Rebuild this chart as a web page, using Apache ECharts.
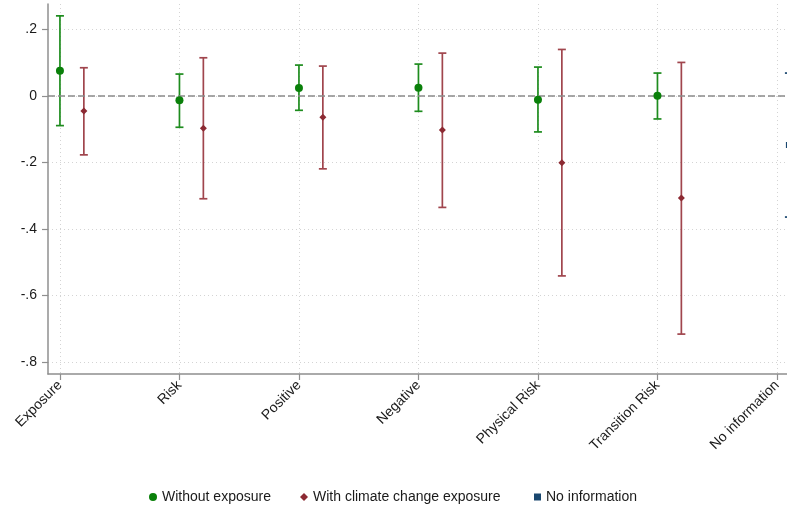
<!DOCTYPE html>
<html>
<head>
<meta charset="utf-8">
<script src="https://cdn.jsdelivr.net/npm/echarts@6/dist/echarts.min.js"></script>
<style>
html,body{margin:0;padding:0;background:#fff;}
#chart{width:787px;height:510px;}
</style>
</head>
<body>
<div id="chart"></div>
<script>
// ---- data ----
const categories = ['Exposure','Risk','Positive','Negative','Physical Risk','Transition Risk','No information'];
const yTicks = [-0.8,-0.6,-0.4,-0.2,0,0.2];

// Without exposure
const woEst = [0.076,-0.013,0.024,0.025,-0.011,0.001,null];
const woLo  = [-0.089,-0.094,-0.043,-0.046,-0.108,-0.069,null];
const woHi  = [0.241,0.066,0.093,0.096,0.087,0.069,null];

// With climate change exposure
const wEst = [-0.045,-0.097,-0.064,-0.102,-0.201,-0.307,null];
const wLo  = [-0.177,-0.309,-0.219,-0.335,-0.541,-0.716,null];
const wHi  = [0.085,0.115,0.090,0.129,0.140,0.101,null];

// No information
const niEst = [null,null,null,null,null,null,-0.147];
const niLo  = [null,null,null,null,null,null,-0.364];
const niHi  = [null,null,null,null,null,null,0.069];

// ---- build ----
const offsets = {wo:0, w:0.2, ni:0.1};
function pts(est, off){ const r=[]; est.forEach((v,i)=>{ if(v!==null) r.push([i+off, v]); }); return r; }
function cis(lo, hi, off){ const r=[]; lo.forEach((v,i)=>{ if(v!==null) r.push([i+off, v, hi[i]]); }); return r; }

function ciRender(color){
  return function(params, api){
    const x = api.value(0), lo = api.value(1), hi = api.value(2);
    const a = api.coord([x, lo]), b = api.coord([x, hi]);
    const cw = 4, lw = 1.7;
    const st = {stroke: color, lineWidth: lw, fill: null};
    return {type:'group', children:[
      {type:'line', shape:{x1:a[0],y1:a[1],x2:b[0],y2:b[1]}, style:st},
      {type:'line', shape:{x1:a[0]-cw,y1:a[1],x2:a[0]+cw,y2:a[1]}, style:st},
      {type:'line', shape:{x1:b[0]-cw,y1:b[1],x2:b[0]+cw,y2:b[1]}, style:st}
    ]};
  };
}

const GREEN = '#0a800a', GREEN_L = '#1e8c1e';
const RED = '#8c2a33', RED_L = '#a0454d';
const NAVY = '#1a476f';

const fmtY = v => v===0 ? '0' : (v<0?'-':'') + Math.abs(v).toFixed(1).replace(/^0/,'');

const chart = echarts.init(document.getElementById('chart'), null, {renderer:'canvas'});
const legendText = {fontFamily:'Liberation Sans, Arial, sans-serif', fontSize:14, color:'#1a1a1a'};
chart.setOption({
  animation:false,
  backgroundColor:'#fff',
  grid:{left:48, right:0, top:4, bottom:136, containLabel:false},
  xAxis:{
    type:'value', min:-0.1, max:6.084,
    axisLine:{show:true, onZero:false, lineStyle:{color:'#8f8f8f', width:1.5}},
    axisTick:{show:true, length:6, lineStyle:{color:'#8f8f8f', width:1.2}, customValues:[0,1,2,3,4,5,6]},
    axisLabel:{show:true, rotate:45, margin:9, customValues:[0,1,2,3,4,5,6],
      formatter: v => categories[Math.round(v)] || '',
      fontFamily:'Liberation Sans, Arial, sans-serif', fontSize:14, color:'#1a1a1a'},
    splitLine:{show:true, lineStyle:{color:'#d4d4d4', type:[1,3], width:1}}
  },
  yAxis:{
    type:'value', min:-0.836, max:0.2767,
    axisLine:{show:true, onZero:false, lineStyle:{color:'#8f8f8f', width:1.5}},
    axisTick:{show:true, length:6, lineStyle:{color:'#8f8f8f', width:1.2}, customValues:yTicks},
    axisLabel:{show:true, margin:11, customValues:yTicks, formatter: fmtY,
      fontFamily:'Liberation Sans, Arial, sans-serif', fontSize:14, color:'#1a1a1a'},
    splitLine:{show:true, lineStyle:{color:'#d4d4d4', type:[1,3], width:1}}
  },
  legend:[
    {left:144, top:485, itemWidth:8, itemHeight:8, textStyle:legendText, data:[{name:'Without exposure', icon:'circle'}]},
    {left:295, top:485, itemWidth:8, itemHeight:8, textStyle:legendText, data:[{name:'With climate change exposure', icon:'diamond'}]},
    {left:529, top:485, itemWidth:7, itemHeight:7, textStyle:legendText, data:[{name:'No information', icon:'rect'}]}
  ],
  series:[
    {type:'line', name:'zero', data:[], silent:true,
      markLine:{silent:true, symbol:'none', label:{show:false},
        lineStyle:{color:'#8a8a8a', type:[7,3], width:1.5},
        data:[{yAxis:0}]}},
    {type:'custom', name:'ci_wo', renderItem:ciRender(GREEN_L), data:cis(woLo,woHi,offsets.wo), encode:{x:0,y:[1,2]}, z:3, clip:false},
    {type:'custom', name:'ci_w', renderItem:ciRender(RED_L), data:cis(wLo,wHi,offsets.w), encode:{x:0,y:[1,2]}, z:3, clip:false},
    {type:'custom', name:'ci_ni', renderItem:ciRender(NAVY), data:cis(niLo,niHi,offsets.ni), encode:{x:0,y:[1,2]}, z:3, clip:false},
    {type:'scatter', name:'Without exposure', symbol:'circle', symbolSize:8, itemStyle:{color:GREEN, opacity:1}, data:pts(woEst,offsets.wo), z:5, clip:false},
    {type:'scatter', name:'With climate change exposure', symbol:'diamond', symbolSize:7, itemStyle:{color:RED, opacity:1}, data:pts(wEst,offsets.w), z:5, clip:false},
    {type:'scatter', name:'No information', symbol:'rect', symbolSize:6, itemStyle:{color:NAVY, opacity:1}, data:pts(niEst,offsets.ni), z:5, clip:false}
  ]
});
</script>
</body>
</html>
